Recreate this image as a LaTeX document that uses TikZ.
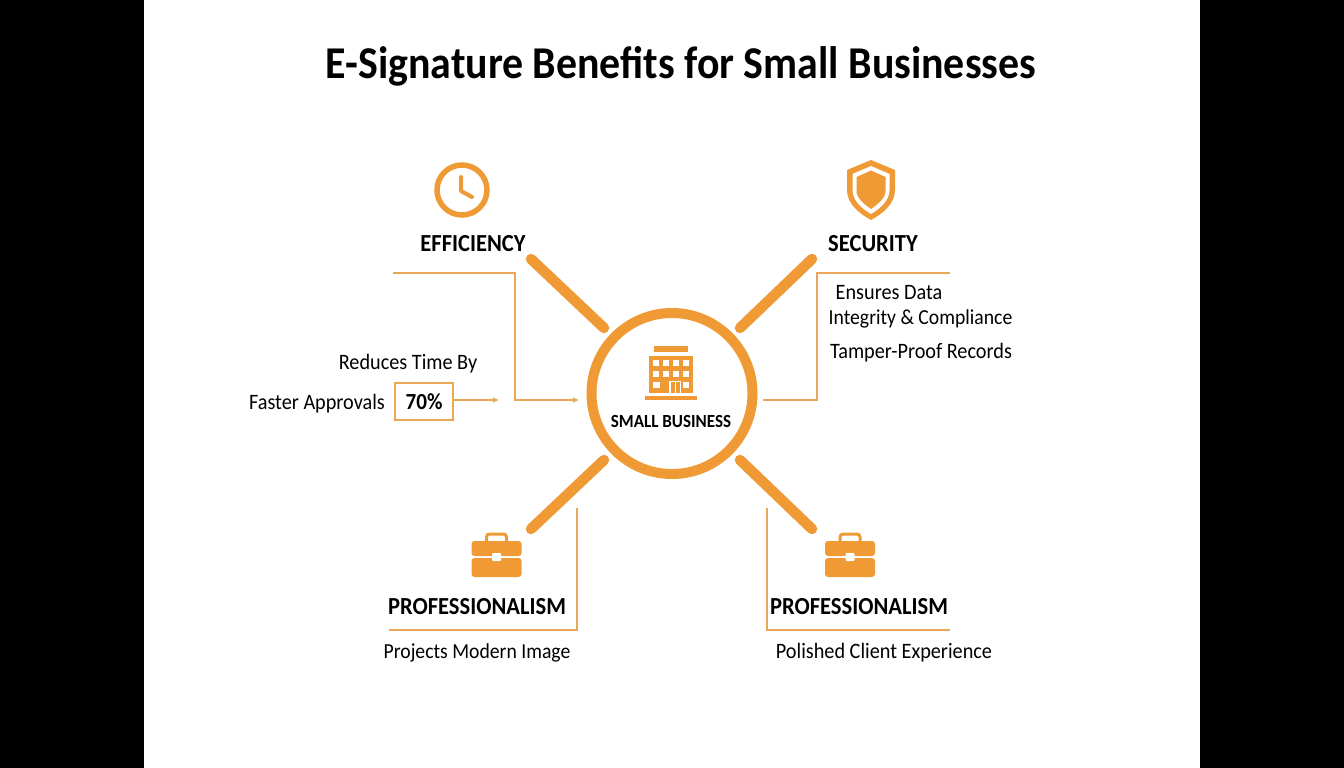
\documentclass[tikz,border=0pt]{standalone}
\usepackage{fontspec}
\usetikzlibrary{arrows.meta}
\setmainfont[FakeStretch=0.92]{Carlito}
\definecolor{ormain}{HTML}{EF9A35}
\definecolor{orthin}{HTML}{EBA658}
\tikzset{
  spoke/.style={ormain,line width=10.5pt,line cap=round},
  guide/.style={orthin,line width=1.3pt},
  head/.style={font=\bfseries\fontsize{24.5}{24.5}\selectfont,inner sep=0pt},
  txt/.style={font=\fontsize{22}{22}\selectfont,inner sep=0pt},
  txtsmall/.style={font=\fontsize{21.4}{21.4}\selectfont,inner sep=0pt},
}
\begin{document}
\begin{tikzpicture}[x=1pt,y=-1pt]
\useasboundingbox (0,0) rectangle (1344,768);
\fill[black] (0,0) rectangle (144,768);
\fill[black] (1200,0) rectangle (1344,768);
\node[inner sep=0pt,font=\bfseries\fontsize{45.5}{45.5}\selectfont] (title) at (681,66) {E-Signature Benefits for Small Businesses};
% hub
\node[circle,draw=ormain,line width=10pt,minimum size=161pt,inner sep=0pt] (hub) at (672,393.5) {};
\node[inner sep=0pt,font=\bfseries\fontsize{18.5}{18.5}\selectfont] (hubname) at (671,421) {SMALL BUSINESS};
% spokes
\coordinate (nw) at (531,259);
\coordinate (ne) at (812,259);
\coordinate (sw) at (531,529);
\coordinate (se) at (812,529);
\coordinate (nwin) at (604,328);
\coordinate (nein) at (740,328);
\coordinate (swin) at (604,460);
\coordinate (sein) at (740,460);
\draw[spoke] (nw)--(nwin);
\draw[spoke] (ne)--(nein);
\draw[spoke] (sw)--(swin);
\draw[spoke] (se)--(sein);
% building
\fill[ormain] (645,396) rectangle (697,400);
\fill[ormain] (654,346) rectangle (688,352);
\fill[ormain] (649,356) rectangle (693,393);
\foreach \x in {656,666,676,686}
  \foreach \y in {363,374}
    \fill[white] (\x-3.2,\y-3.2) rectangle (\x+3.2,\y+3.2);
\fill[white] (653,382) rectangle (659.5,388);
\fill[white] (682.5,382) rectangle (689,388);
\fill[white] (669,381) rectangle (681,393);
\fill[ormain] (670.5,382) rectangle (674.5,393);
\fill[ormain] (675.5,382) rectangle (679.5,393);
% clock
\draw[ormain,line width=5.5pt] (462,190) circle (25);
\draw[ormain,line width=4pt,line cap=round,line join=round] (461,177)--(461,191)--(472,197);
% shield
\fill[ormain] (871,160)--(895,170)--(895,190) .. controls (895,203) and (884,213) .. (871,220) .. controls (858,213) and (847,203) .. (847,190)--(847,170)--cycle;
\fill[white] (871,166)--(889.5,174)--(889.5,190) .. controls (889.5,200) and (881,208) .. (871,214) .. controls (861,208) and (852.5,200) .. (852.5,190)--(852.5,174)--cycle;
\fill[ormain] (871,170.5)--(885.5,177)--(885.5,191) .. controls (885.5,198) and (878,204) .. (871,209) .. controls (864,204) and (856.5,198) .. (856.5,191)--(856.5,177)--cycle;
% briefcases
\foreach \x in {496.5,850}{
  \draw[ormain,line width=3pt,rounded corners=3pt] (\x-10,541)--(\x-10,534)--(\x+10,534)--(\x+10,541);
  \fill[ormain,rounded corners=3pt] (\x-25,541) rectangle (\x+25,556);
  \fill[ormain,rounded corners=3pt] (\x-25,558) rectangle (\x+25,577);
  \fill[white,rounded corners=1pt] (\x-4.5,553) rectangle (\x+4.5,561);
}
% headings
\node[head] (effname) at (473,244) {EFFICIENCY};
\node[head] (secname) at (873,244) {SECURITY};
\node[head] (proname) at (477,607) {PROFESSIONALISM};
\node[head] (proname2) at (859,607) {PROFESSIONALISM};
% texts
\node[txt] (reduces) at (408,364) {Reduces Time By};
\node[txt] (faster) at (317,404) {Faster Approvals};
\node[draw=orthin,line width=1.3pt,minimum width=58pt,minimum height=37pt,inner sep=0pt,font=\bfseries\fontsize{23}{23}\selectfont] (pct) at (424,401.5) {70\%};
\node[txt] (ensures) at (889,293) {Ensures Data};
\node[txtsmall] (integrity) at (920.5,319) {Integrity \& Compliance};
\node[txt] (tamper) at (921,353) {Tamper-Proof Records};
\node[txtsmall] (projects) at (477,653) {Projects Modern Image};
\node[txt] (polished) at (884,653) {Polished Client Experience};
% thin lines
\coordinate (effstart) at (393,273);
\coordinate (effarrow) at (579,400);
\coordinate (pctarrow) at (499,400);
\coordinate (hubright) at (763,400);
\coordinate (secend) at (950,273);
\coordinate (protop) at (577,508);
\coordinate (proend) at (389,630);
\coordinate (protop2) at (767,508);
\coordinate (proend2) at (950,630);
\draw[guide,-{Latex[length=6pt,width=6pt]}] (effstart)-|(515,400)--(effarrow);
\draw[guide,-{Latex[length=6pt,width=6pt]}] (pct.east|-pctarrow)--(pctarrow);
\draw[guide] (hubright)-|(817,273)--(secend);
\draw[guide] (protop)|-(proend);
\draw[guide] (protop2)|-(proend2);
\end{tikzpicture}
\end{document}
